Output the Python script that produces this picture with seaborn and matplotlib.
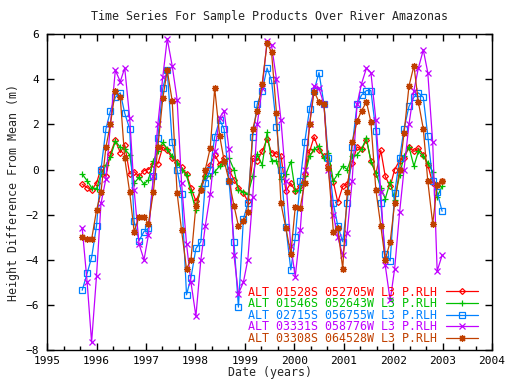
import matplotlib
matplotlib.use("Agg")
import matplotlib.pyplot as plt
from matplotlib.ticker import MultipleLocator
import seaborn as sns

# 35-day cycle dates (decimal years)
years = [1995.71, 1995.81, 1995.90, 1996.00, 1996.09, 1996.19, 1996.28, 1996.38, 1996.48, 1996.57,
         1996.67, 1996.76, 1996.86, 1996.96, 1997.05, 1997.15, 1997.24, 1997.34, 1997.43, 1997.53,
         1997.63, 1997.72, 1997.82, 1997.91, 1998.01, 1998.11, 1998.20, 1998.30, 1998.39, 1998.49,
         1998.58, 1998.68, 1998.78, 1998.87, 1998.97, 1999.06, 1999.16, 1999.25, 1999.35, 1999.45,
         1999.54, 1999.64, 1999.73, 1999.83, 1999.93, 2000.02, 2000.12, 2000.21, 2000.31, 2000.40,
         2000.50, 2000.60, 2000.69, 2000.79, 2000.88, 2000.98, 2001.07, 2001.17, 2001.27, 2001.36,
         2001.46, 2001.55, 2001.65, 2001.75, 2001.84, 2001.94, 2002.03, 2002.13, 2002.22, 2002.32,
         2002.42, 2002.51, 2002.61, 2002.70, 2002.80, 2002.89, 2002.99]

red_vals = [-0.65, -0.8, -0.9, -0.6, 0.05, -0.3, 0.7, 1.3, 0.75, 1.1,
            -0.2, -0.1, -0.3, -0.05, 0.0, 0.25, 0.25, 1.0, 0.85, 0.5,
            0.35, 0.1, -0.2, -0.8, -1.4, -0.9, -0.3, 0.2, 0.65, 0.25,
            0.5, 0.0, -0.45, -0.8, -1.05, -1.4, 0.5, 0.4, 0.8, 1.35,
            0.75, 0.7, 0.6, -0.95, -0.6, -0.95, -0.75, -0.2, 0.8, 1.45,
            0.85, 0.6, 0.2, -0.55, -1.45, -0.75, -0.65, 0.3, 1.0, 0.9,
            1.3, 0.4, -0.2, 0.85, -0.3, -0.75, 0.0, 0.4, 0.5, 1.0,
            0.8, 0.95, 0.65, 0.2, -0.6, -0.7, -0.5]

green_vals = [-0.2, -0.5, -0.8, -0.85, -0.2, 0.2, 0.55, 1.25, 1.0, 0.9,
              0.65, -0.6, -0.35, -0.65, -0.45, 0.4, 0.8, 1.2, 0.9, 0.6,
              0.3, 0.0, -0.25, -1.0, -1.8, -0.75, -0.3, -0.3, -0.1, 0.15,
              0.3, 0.5, 0.0, -0.9, -1.0, -1.1, -0.3, 0.7, 0.2, 1.65,
              0.4, 0.4, -0.4, -0.2, 0.35, -0.95, -0.9, -0.3, 0.6, 0.9,
              1.05, 0.5, 0.75, -0.5, -0.2, 0.15, 0.0, 0.6, 0.65, 0.9,
              1.4, 0.35, -0.15, -0.8, -1.3, -0.55, -1.35, -0.25, 0.6, 1.0,
              0.15, 0.8, 0.6, 0.3, -0.1, -1.2, -0.75]

blue_vals = [-5.35, -4.6, -3.9, -2.5, 0.0, 1.8, 2.6, 3.2, 3.4, 2.5,
             1.8, -2.3, -3.15, -2.75, -2.6, -0.3, 1.4, 3.6, 4.4, 1.2,
             0.0, -1.1, -5.55, -4.8, -3.5, -3.2, -0.6, 0.0, 1.45, 2.2,
             1.8, -0.5, -3.2, -6.1, -2.2, -1.5, 1.45, 2.9, 3.5, 4.5,
             3.95, 1.9, 0.0, -2.55, -4.45, -3.0, -0.5, 1.2, 2.7, 3.5,
             4.3, 2.9, 0.5, -1.5, -2.5, -3.2, -1.5, 1.0, 2.9, 3.3,
             3.5, 3.5, 1.7, -1.5, -3.75, -4.05, -1.05, 0.5, 1.8, 2.8,
             3.2, 3.4, 3.2, 1.5, -0.5, -1.0, -1.85]

magenta_vals = [-2.6, -5.0, -7.65, -4.7, -1.5, -0.4, 2.0, 4.4, 3.9, 4.5,
                2.3, -0.9, -3.3, -4.0, -2.9, -0.3, 2.0, 4.1, 5.8, 4.6,
                3.1, -0.6, -3.3, -5.0, -6.5, -4.0, -2.5, -1.1, 0.8, 2.3,
                2.6, 0.9, -3.8, -5.5, -5.0, -4.0, -1.2, 2.0, 3.6, 5.7,
                5.5, 4.0, 2.2, -0.5, -3.4, -4.75, -2.7, 0.0, 2.0, 3.7,
                3.6, 2.9, 0.0, -2.0, -3.0, -3.8, -2.8, -0.5, 2.9, 3.8,
                4.5, 4.3, 2.2, -1.0, -4.25, -5.8, -4.4, -1.9, 0.0, 2.0,
                3.5, 4.5, 5.3, 4.3, 1.2, -4.5, -3.8]

orange_vals = [-3.0, -3.1, -3.1, -1.8, -1.0, 1.0, 2.0, 3.5, 3.2, 0.5,
               -1.0, -2.75, -2.1, -2.1, -2.4, -1.0, 1.0, 3.15, 4.4, 3.05,
               -1.05, -2.7, -4.4, -4.0, -1.6, -0.9, 0.0, 0.95, 3.6, 1.5,
               0.4, -0.5, -1.6, -2.5, -2.3, -1.9, 1.8, 2.6, 3.8, 5.6,
               5.2, 2.5, -1.5, -2.6, -3.75, -1.65, -1.7, -0.6, 2.0, 3.45,
               3.0, 2.9, 0.05, -2.75, -2.6, -4.4, -1.0, 1.2, 2.15, 2.6,
               3.0, 2.1, -0.9, -2.5, -4.0, -3.2, -1.5, 0.0, 1.6, 3.7,
               4.6, 3.0, 1.8, -0.5, -2.4, -0.7, -0.5]

labels = ["ALT 01528S 052705W L3 P.RLH",
          "ALT 01546S 052643W L3 P.RLH",
          "ALT 02715S 056755W L3 P.RLH",
          "ALT 03331S 058776W L3 P.RLH",
          "ALT 03308S 064528W L3 P.RLH"]
colors = ["#ff0000", "#00c000", "#0080ff", "#c000ff", "#c04000"]
markers = ["D", "+", "s", "x", (8, 2, 0)]
msizes = [3.0, 5.0, 4.2, 4.5, 5.0]
series = [red_vals, green_vals, blue_vals, magenta_vals, orange_vals]

sns.set_style("ticks")
plt.rcParams["font.family"] = ["DejaVu Sans Mono"]
plt.rcParams["font.size"] = 8.4

fig = plt.figure(figsize=(5.12, 3.84), dpi=100)
ax = fig.add_axes([0.092, 0.0885, 0.869, 0.8225])

for vals, lab, col, mk, ms in zip(series, labels, colors, markers, msizes):
    sns.lineplot(x=years, y=vals, ax=ax, color=col, label=lab, linewidth=0.9,
                 marker=mk, markersize=ms, markerfacecolor="none",
                 markeredgecolor=col, markeredgewidth=0.9)

ax.set_xlim(1995, 2004)
ax.set_ylim(-8, 6)
ax.xaxis.set_major_locator(MultipleLocator(1))
ax.xaxis.set_minor_locator(MultipleLocator(1 / 3))
ax.yaxis.set_major_locator(MultipleLocator(2))
ax.tick_params(which="both", direction="in", top=True, right=True, colors="black",
               labelsize=8)
ax.tick_params(which="major", length=5, width=1)
ax.tick_params(which="minor", length=3, width=1)
ax.tick_params(axis="x", which="major", pad=4)
ax.tick_params(axis="y", which="major", pad=6)
for sp in ax.spines.values():
    sp.set_color("black")
    sp.set_linewidth(1)

ax.set_title("Time Series For Sample Products Over River Amazonas", fontsize=8.4, pad=10)
ax.set_xlabel("Date (years)", labelpad=0)
ax.set_ylabel("Height Difference From Mean (m)", labelpad=4)

ax.legend(loc="lower right", bbox_to_anchor=(0.969, 0.016), frameon=False,
          markerfirst=False, labelcolor="linecolor", handlelength=2.8,
          labelspacing=-0.12, borderaxespad=0, borderpad=0, handletextpad=0.7)

fig.savefig("out.png", dpi=100)
